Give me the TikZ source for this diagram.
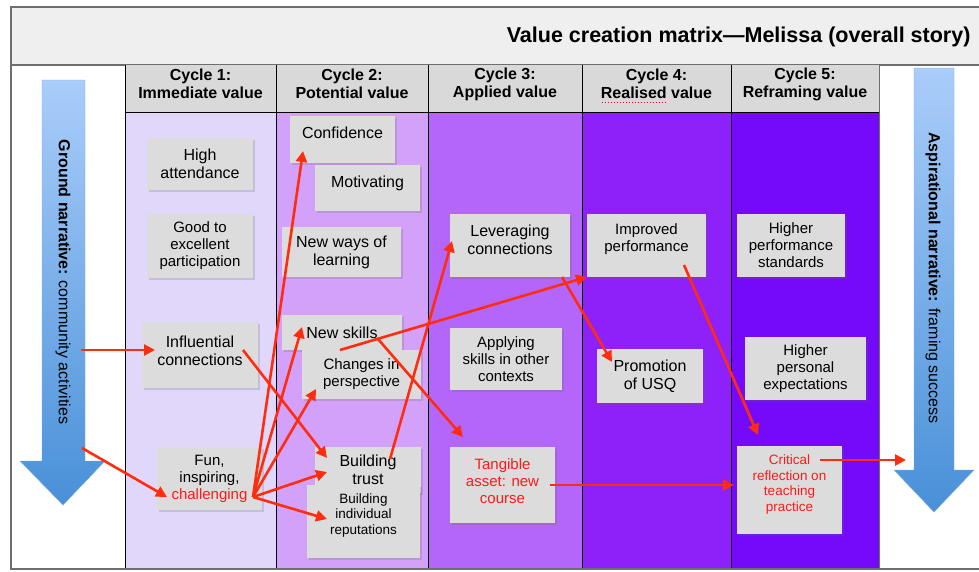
\documentclass[tikz,border=0pt]{standalone}
\usepackage{fontspec}
\setmainfont{Liberation Sans}
\usepackage{tikz}
\usetikzlibrary{arrows.meta}
\usetikzlibrary{shadows}
\usepackage{xcolor}

\definecolor{titlegray}{RGB}{239,239,239}
\definecolor{headgray}{RGB}{217,217,217}
\definecolor{cardgray}{RGB}{220,220,220}
\definecolor{framegray}{RGB}{110,110,110}
\definecolor{cyca}{RGB}{224,215,251}
\definecolor{cycb}{RGB}{211,160,250}
\definecolor{cycc}{RGB}{180,102,250}
\definecolor{cycd}{RGB}{142,32,250}
\definecolor{cyce}{RGB}{117,10,250}
\definecolor{arrred}{RGB}{255,45,15}
\definecolor{txtred}{RGB}{255,25,25}
\definecolor{bluetop}{RGB}{170,205,250}
\definecolor{bluebot}{RGB}{72,144,216}
\definecolor{blueedge}{RGB}{125,168,228}

\begin{document}
\begin{tikzpicture}[x=1pt,y=-1pt,
  card/.style={fill=cardgray, inner sep=0pt, align=center,
    drop shadow={shadow xshift=1.5pt,shadow yshift=-1.5pt,opacity=.22,fill=black!60}},
  big/.style={font=\fontsize{16}{18}\selectfont, align=center},
  mid/.style={font=\fontsize{15}{17}\selectfont, align=center},
  small/.style={font=\fontsize{13.5}{15.5}\selectfont, align=center},
  head/.style={font=\bfseries\fontsize{16}{18}\selectfont, align=center},
  link/.style={draw=arrred, line width=2.6pt, -{Triangle[length=11pt,width=11pt]}}]
\useasboundingbox (0,0) rectangle (979,571);
% frame and title
\fill[titlegray] (11,7) rectangle (979,65);
\draw[framegray, line width=1.2pt] (979,7)--(11,7)--(11,569)--(979,569);
\draw[framegray, line width=1.2pt] (11,65)--(979,65);
\node[anchor=east, font=\bfseries\fontsize{21.5}{24}\selectfont] (title) at (974,37) {Value creation matrix---Melissa (overall story)};
% the five cycles
\fill[cyca] (125,112) rectangle (276,568);
\fill[cycb] (276,112) rectangle (428,568);
\fill[cycc] (428,112) rectangle (582,568);
\fill[cycd] (582,112) rectangle (731,568);
\fill[cyce] (731,112) rectangle (879,568);
\fill[headgray] (125,65) rectangle (879,112);
\draw (125,112)--(879,112);
\draw (125,65)--(125,568);
\draw (276,65)--(276,568);
\draw (428,65)--(428,568);
\draw (582,65)--(582,568);
\draw (731,65)--(731,568);
\draw[framegray] (879,65)--(879,568);
\node[head] (cyc1) at (200.5,84) {Cycle 1:\\Immediate value};
\node[head] (cyc2) at (352,84) {Cycle 2:\\Potential value};
\node[head] (cyc3) at (505,84) {Cycle 3:\\Applied value};
\node[head] (cyc4) at (656.5,84) {Cycle 4:\\Realised value};
\node[head] (cyc5) at (805,84) {Cycle 5:\\Reframing value};
\draw[red, dotted, line width=1pt] (602,102)--(666,102);
% narrative arrows
\shade[top color=bluetop, bottom color=bluebot, draw=blueedge]
  (42,80)--(85,80)--(85,461)--(105,461)--(63,505)--(20,461)--(42,461)--cycle;
\shade[top color=bluetop, bottom color=bluebot, draw=blueedge]
  (914,68)--(954,68)--(954,470)--(974,470)--(934,512)--(894,470)--(914,470)--cycle;
\node[big, rotate=-90] (ground) at (63,282) {\textbf{Ground narrative:} community activities};
\node[big, rotate=-90] (aspir) at (933,278) {\textbf{Aspirational narrative:} framing success};
\coordinate (gin1) at (81,350);
\coordinate (gin2) at (82,448);
\coordinate (aout) at (906,460);
% cycle 1
\node[card,big,minimum width=106pt,minimum height=52pt] (attend) at (200,164) {High\\attendance};
\node[card,mid,minimum width=106pt,minimum height=64pt] (partic) at (200,246) {Good to\\excellent\\participation};
\node[card,minimum width=116pt,minimum height=66pt] (influ) at (200,355) {};
\node[big] (influ-t) at (200,351) {Influential\\connections};
\node[card,mid,minimum width=105pt,minimum height=63pt] (fun) at (209.5,478.5) {Fun,\\inspiring,\\\textcolor{txtred}{challenging}};
% cycle 2
\node[card,minimum width=105pt,minimum height=47pt] (conf) at (342.5,139.5) {};
\node[big] (conf-t) at (342.5,132.5) {Confidence};
\node[card,minimum width=105pt,minimum height=46pt] (motiv) at (367.5,188) {};
\node[big] (motiv-t) at (367.5,183) {Motivating};
\node[card,big,minimum width=119pt,minimum height=50pt] (ways) at (341.5,252) {New ways of\\learning};
\node[card,big,minimum width=120pt,minimum height=35pt] (skills) at (342,332.5) {New skills};
\node[card,mid,minimum width=119pt,minimum height=49pt] (change) at (361.5,374.5) {Changes in\\perspective};
\node[card,big,minimum width=106pt,minimum height=46pt] (trust) at (368,470) {Building\\trust};
\node[card,minimum width=113pt,minimum height=73pt] (reput) at (363.5,521.5) {};
\node[small] (reput-t) at (363.5,515) {Building\\individual\\reputations};
% cycle 3
\node[card,minimum width=120pt,minimum height=63pt] (lever) at (510,245.5) {};
\node[big] (lever-t) at (510,239.5) {Leveraging\\connections};
\node[card,mid,minimum width=112pt,minimum height=62pt] (apply) at (506,359) {Applying\\skills in other\\contexts};
\node[card,minimum width=105pt,minimum height=76pt] (tang) at (502.5,485) {};
\node[mid,text=txtred] (tang-t) at (502.5,481) {Tangible\\asset: new\\course};
% cycle 4
\node[card,minimum width=119pt,minimum height=63pt] (impr) at (646.5,245.5) {};
\node[mid] (impr-t) at (646.5,239.5) {Improved\\performance};
\node[card,big,minimum width=106pt,minimum height=54pt] (promo) at (650,376) {Promotion\\of USQ};
% cycle 5
\node[card,mid,minimum width=108pt,minimum height=63pt] (stand) at (791,245.5) {Higher\\performance\\standards};
\node[card,mid,minimum width=121pt,minimum height=63pt] (pers) at (805.5,368.5) {Higher\\personal\\expectations};
\node[card,minimum width=105pt,minimum height=88pt] (crit) at (789.5,490) {};
\node[small,text=txtred] (crit-t) at (789.5,484.5) {Critical\\reflection on\\teaching\\practice};
% value flows
\draw[link] (gin1)--([xshift=-45pt,yshift=5pt]influ.center);
\draw[link] (gin2)--([xshift=-42.5pt,yshift=-18.5pt]fun.center);
\draw[link] ([xshift=43pt,yshift=5pt]influ.center)--([xshift=-41pt,yshift=12pt]trust.center);
\draw[link] ([xshift=43.5pt,yshift=-18.5pt]fun.center)--([xshift=-39.5pt,yshift=-11.5pt]conf.center);
\draw[link] ([xshift=43.5pt,yshift=-18.5pt]fun.center)--([xshift=-40pt,yshift=5.5pt]skills.center);
\draw[link] ([xshift=43.5pt,yshift=-18.5pt]fun.center)--([xshift=-45.5pt,yshift=-14.5pt]change.center);
\draw[link] ([xshift=43.5pt,yshift=-18.5pt]fun.center)--([xshift=-41pt,yshift=-2pt]trust.center);
\draw[link] ([xshift=43.5pt,yshift=-18.5pt]fun.center)--([xshift=-36.5pt,yshift=2.5pt]reput.center);
\draw[link] ([xshift=22pt,yshift=11pt]trust.center)--([xshift=-58pt,yshift=4.5pt]lever.center);
\draw[link] ([xshift=-21.5pt,yshift=24.5pt]change.center)--([xshift=-59.5pt,yshift=-31.5pt]impr.center);
\draw[link] ([xshift=36pt,yshift=-6.5pt]skills.center)--([xshift=-39.5pt,yshift=48pt]tang.center);
\draw[link] ([xshift=52pt,yshift=-31.5pt]lever.center)--([xshift=-38pt,yshift=14pt]promo.center);
\draw[link] ([xshift=37.5pt,yshift=-19.5pt]impr.center)--([xshift=-31.5pt,yshift=55pt]crit.center);
\draw[link] ([xshift=47.5pt]tang.center)--([xshift=-55.5pt,yshift=5pt]crit.center);
\draw[link] ([xshift=30.5pt,yshift=30pt]crit.center)--(aout);
\end{tikzpicture}
\end{document}
